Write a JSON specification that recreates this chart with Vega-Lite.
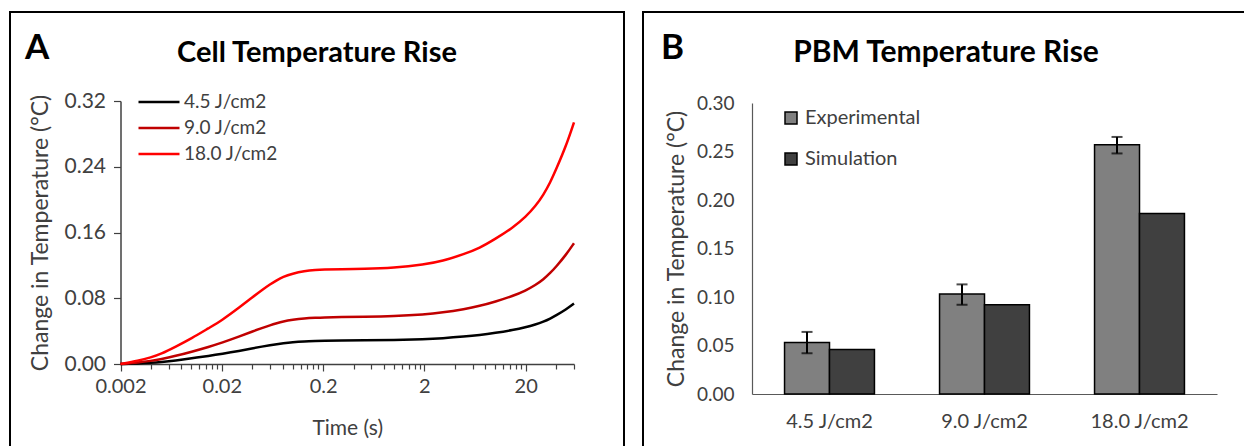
{
  "$schema": "https://vega.github.io/schema/vega-lite/v6.json",
  "padding": {"left": 9, "top": 11, "right": 0, "bottom": 0},
  "background": "white",
  "config": {"font": "Lato", "view": {"stroke": "black", "strokeWidth": 2}},
  "spacing": 17,
  "hconcat": [
    {
      "title": {"text": "A", "anchor": "start", "fontSize": 35, "fontWeight": "bold", "offset": -55, "dx": 16, "color": "black"},
      "vconcat": [
        {
          "width": 614,
          "height": 440,
          "title": {"text": "Cell Temperature Rise", "fontSize": 29, "fontWeight": "bold", "anchor": "middle", "offset": -56, "color": "black"},
          "data": {"values": [
            {"s": "4.5 J/cm2", "t": 0.002, "v": 0}, {"s": "4.5 J/cm2", "t": 0.003, "v": 0.0007}, {"s": "4.5 J/cm2", "t": 0.004, "v": 0.0015}, {"s": "4.5 J/cm2", "t": 0.005, "v": 0.0024}, {"s": "4.5 J/cm2", "t": 0.007, "v": 0.0042}, {"s": "4.5 J/cm2", "t": 0.01, "v": 0.0068}, {"s": "4.5 J/cm2", "t": 0.015, "v": 0.01}, {"s": "4.5 J/cm2", "t": 0.02, "v": 0.0123}, {"s": "4.5 J/cm2", "t": 0.03, "v": 0.016}, {"s": "4.5 J/cm2", "t": 0.04, "v": 0.019}, {"s": "4.5 J/cm2", "t": 0.05, "v": 0.0212}, {"s": "4.5 J/cm2", "t": 0.06, "v": 0.0229}, {"s": "4.5 J/cm2", "t": 0.07, "v": 0.0242}, {"s": "4.5 J/cm2", "t": 0.08, "v": 0.0252}, {"s": "4.5 J/cm2", "t": 0.1, "v": 0.0265}, {"s": "4.5 J/cm2", "t": 0.13, "v": 0.0274}, {"s": "4.5 J/cm2", "t": 0.17, "v": 0.0279}, {"s": "4.5 J/cm2", "t": 0.2, "v": 0.0282}, {"s": "4.5 J/cm2", "t": 0.3, "v": 0.0285}, {"s": "4.5 J/cm2", "t": 0.5, "v": 0.0288}, {"s": "4.5 J/cm2", "t": 1, "v": 0.0292}, {"s": "4.5 J/cm2", "t": 2, "v": 0.0302}, {"s": "4.5 J/cm2", "t": 3, "v": 0.0313}, {"s": "4.5 J/cm2", "t": 5, "v": 0.0334}, {"s": "4.5 J/cm2", "t": 7, "v": 0.0352}, {"s": "4.5 J/cm2", "t": 10, "v": 0.0378}, {"s": "4.5 J/cm2", "t": 15, "v": 0.0413}, {"s": "4.5 J/cm2", "t": 20, "v": 0.0446}, {"s": "4.5 J/cm2", "t": 25, "v": 0.048}, {"s": "4.5 J/cm2", "t": 30, "v": 0.0515}, {"s": "4.5 J/cm2", "t": 35, "v": 0.0553}, {"s": "4.5 J/cm2", "t": 40, "v": 0.0592}, {"s": "4.5 J/cm2", "t": 50, "v": 0.0663}, {"s": "4.5 J/cm2", "t": 60, "v": 0.0735},
            {"s": "9.0 J/cm2", "t": 0.002, "v": 0}, {"s": "9.0 J/cm2", "t": 0.003, "v": 0.0018}, {"s": "9.0 J/cm2", "t": 0.004, "v": 0.0038}, {"s": "9.0 J/cm2", "t": 0.005, "v": 0.0058}, {"s": "9.0 J/cm2", "t": 0.007, "v": 0.0098}, {"s": "9.0 J/cm2", "t": 0.01, "v": 0.0148}, {"s": "9.0 J/cm2", "t": 0.015, "v": 0.021}, {"s": "9.0 J/cm2", "t": 0.02, "v": 0.0258}, {"s": "9.0 J/cm2", "t": 0.03, "v": 0.0335}, {"s": "9.0 J/cm2", "t": 0.04, "v": 0.0395}, {"s": "9.0 J/cm2", "t": 0.05, "v": 0.0438}, {"s": "9.0 J/cm2", "t": 0.06, "v": 0.0472}, {"s": "9.0 J/cm2", "t": 0.07, "v": 0.0497}, {"s": "9.0 J/cm2", "t": 0.08, "v": 0.0517}, {"s": "9.0 J/cm2", "t": 0.1, "v": 0.0538}, {"s": "9.0 J/cm2", "t": 0.13, "v": 0.0555}, {"s": "9.0 J/cm2", "t": 0.17, "v": 0.0563}, {"s": "9.0 J/cm2", "t": 0.2, "v": 0.0567}, {"s": "9.0 J/cm2", "t": 0.3, "v": 0.0571}, {"s": "9.0 J/cm2", "t": 0.5, "v": 0.0575}, {"s": "9.0 J/cm2", "t": 1, "v": 0.0583}, {"s": "9.0 J/cm2", "t": 2, "v": 0.0603}, {"s": "9.0 J/cm2", "t": 3, "v": 0.0625}, {"s": "9.0 J/cm2", "t": 5, "v": 0.0668}, {"s": "9.0 J/cm2", "t": 7, "v": 0.0705}, {"s": "9.0 J/cm2", "t": 10, "v": 0.0758}, {"s": "9.0 J/cm2", "t": 15, "v": 0.0828}, {"s": "9.0 J/cm2", "t": 20, "v": 0.0893}, {"s": "9.0 J/cm2", "t": 25, "v": 0.096}, {"s": "9.0 J/cm2", "t": 30, "v": 0.103}, {"s": "9.0 J/cm2", "t": 35, "v": 0.1108}, {"s": "9.0 J/cm2", "t": 40, "v": 0.1185}, {"s": "9.0 J/cm2", "t": 50, "v": 0.1328}, {"s": "9.0 J/cm2", "t": 60, "v": 0.147},
            {"s": "18.0 J/cm2", "t": 0.002, "v": 0}, {"s": "18.0 J/cm2", "t": 0.003, "v": 0.004}, {"s": "18.0 J/cm2", "t": 0.004, "v": 0.008}, {"s": "18.0 J/cm2", "t": 0.005, "v": 0.012}, {"s": "18.0 J/cm2", "t": 0.007, "v": 0.021}, {"s": "18.0 J/cm2", "t": 0.01, "v": 0.031}, {"s": "18.0 J/cm2", "t": 0.015, "v": 0.044}, {"s": "18.0 J/cm2", "t": 0.02, "v": 0.053}, {"s": "18.0 J/cm2", "t": 0.03, "v": 0.069}, {"s": "18.0 J/cm2", "t": 0.04, "v": 0.081}, {"s": "18.0 J/cm2", "t": 0.05, "v": 0.09}, {"s": "18.0 J/cm2", "t": 0.06, "v": 0.097}, {"s": "18.0 J/cm2", "t": 0.07, "v": 0.102}, {"s": "18.0 J/cm2", "t": 0.08, "v": 0.106}, {"s": "18.0 J/cm2", "t": 0.1, "v": 0.11}, {"s": "18.0 J/cm2", "t": 0.13, "v": 0.113}, {"s": "18.0 J/cm2", "t": 0.17, "v": 0.1145}, {"s": "18.0 J/cm2", "t": 0.2, "v": 0.115}, {"s": "18.0 J/cm2", "t": 0.3, "v": 0.1152}, {"s": "18.0 J/cm2", "t": 0.5, "v": 0.1156}, {"s": "18.0 J/cm2", "t": 1, "v": 0.117}, {"s": "18.0 J/cm2", "t": 2, "v": 0.121}, {"s": "18.0 J/cm2", "t": 3, "v": 0.125}, {"s": "18.0 J/cm2", "t": 5, "v": 0.134}, {"s": "18.0 J/cm2", "t": 7, "v": 0.141}, {"s": "18.0 J/cm2", "t": 10, "v": 0.152}, {"s": "18.0 J/cm2", "t": 15, "v": 0.166}, {"s": "18.0 J/cm2", "t": 20, "v": 0.179}, {"s": "18.0 J/cm2", "t": 25, "v": 0.192}, {"s": "18.0 J/cm2", "t": 30, "v": 0.206}, {"s": "18.0 J/cm2", "t": 35, "v": 0.221}, {"s": "18.0 J/cm2", "t": 40, "v": 0.237}, {"s": "18.0 J/cm2", "t": 50, "v": 0.265}, {"s": "18.0 J/cm2", "t": 60, "v": 0.294}
          ]},
          "mark": {"type": "line", "interpolate": "basis", "strokeWidth": 2.5},
          "encoding": {
            "x": {"field": "t", "type": "quantitative",
              "scale": {"type": "log", "domain": [0.002, 60], "range": [110.5, 564], "nice": false, "zero": false},
              "axis": {"orient": "bottom", "offset": -88, "grid": false,
                "values": [0.002, 0.004, 0.006, 0.008, 0.01, 0.012, 0.014, 0.016, 0.018, 0.02, 0.04, 0.06, 0.08, 0.1, 0.12, 0.14, 0.16, 0.18, 0.2, 0.4, 0.6, 0.8, 1, 1.2, 1.4, 1.6, 1.8, 2, 4, 6, 8, 10, 12, 14, 16, 18, 20, 40, 60],
                "format": "~g",
                "labelExpr": "indexof([0.002, 0.02, 0.2, 2, 20], datum.value) >= 0 ? datum.label : ''",
                "labelFlush": false, "labelOverlap": false,
                "tickSize": {"condition": {"test": "indexof([0.002, 0.02, 0.2, 2, 20], datum.value) >= 0", "value": 7}, "value": 5},
                "tickColor": "#404040", "tickWidth": 1.2, "domainColor": "#404040", "domainWidth": 1.5,
                "labelColor": "#404040", "labelFontSize": 20, "labelPadding": 5,
                "title": "Time (s)", "titleFontSize": 21, "titleFontWeight": "normal", "titleColor": "#404040", "titlePadding": 21}},
            "y": {"field": "v", "type": "quantitative",
              "scale": {"domain": [0, 0.32], "range": [352, 89], "nice": false, "zero": false},
              "axis": {"orient": "left", "offset": -110.5, "grid": false,
                "values": [0, 0.08, 0.16, 0.24, 0.32], "format": ".2f",
                "tickSize": 7, "tickColor": "#404040", "tickWidth": 1.2, "domainColor": "#404040", "domainWidth": 1.5,
                "labelColor": "#404040", "labelFontSize": 21, "labelPadding": 8,
                "title": "Change in Temperature (°C)", "titleFontSize": 23, "titleFontWeight": "normal", "titleColor": "#404040", "titlePadding": 12}},
            "color": {"field": "s", "type": "nominal",
              "scale": {"domain": ["4.5 J/cm2", "9.0 J/cm2", "18.0 J/cm2"], "range": ["#000000", "#C00000", "#FF0000"]},
              "legend": {"orient": "none", "legendX": 127, "legendY": 80, "title": null, "symbolType": "stroke", "symbolSize": 1681, "symbolStrokeWidth": 2.5, "labelFontSize": 19, "labelColor": "#404040", "clipHeight": 20, "rowPadding": 6, "labelOffset": 3}}
          }
        }
      ]
    },
    {
      "title": {"text": "B", "anchor": "start", "fontSize": 35, "fontWeight": "bold", "offset": -55, "dx": 19, "color": "black"},
      "vconcat": [
        {
          "width": 606,
          "height": 440,
          "title": {"text": "PBM Temperature Rise", "fontSize": 30, "fontWeight": "bold", "anchor": "middle", "offset": -56, "color": "black"},
          "data": {"values": [
            {"c": "4.5 J/cm2", "s": "Experimental", "v": 0.053, "lo": 0.042, "hi": 0.064},
            {"c": "4.5 J/cm2", "s": "Simulation", "v": 0.046},
            {"c": "9.0 J/cm2", "s": "Experimental", "v": 0.103, "lo": 0.092, "hi": 0.113},
            {"c": "9.0 J/cm2", "s": "Simulation", "v": 0.092},
            {"c": "18.0 J/cm2", "s": "Experimental", "v": 0.257, "lo": 0.248, "hi": 0.265},
            {"c": "18.0 J/cm2", "s": "Simulation", "v": 0.186}
          ]},
          "encoding": {
            "x": {"field": "c", "type": "nominal",
              "scale": {"domain": ["4.5 J/cm2", "9.0 J/cm2", "18.0 J/cm2"], "range": [109, 574], "paddingInner": 0.42, "paddingOuter": 0.21},
              "axis": {"orient": "bottom", "offset": -58, "ticks": false, "tickSize": 0, "labelAngle": 0, "labelFontSize": 20, "labelColor": "#404040", "labelPadding": 17, "domainColor": "#595959", "domainWidth": 1.2, "title": null}},
            "xOffset": {"field": "s", "type": "nominal", "scale": {"domain": ["Experimental", "Simulation"], "paddingInner": 0, "paddingOuter": 0}}
          },
          "layer": [
            {
              "mark": {"type": "bar", "stroke": "black", "strokeWidth": 1.5},
              "encoding": {
                "y": {"field": "v", "type": "quantitative",
                  "scale": {"domain": [0, 0.3], "range": [382, 91], "nice": false, "zero": false},
                  "axis": {"orient": "left", "offset": -109, "grid": false, "values": [0, 0.05, 0.1, 0.15, 0.2, 0.25, 0.3], "format": ".2f",
                    "ticks": false, "tickSize": 0, "labelPadding": 18, "labelFontSize": 19, "labelColor": "#404040", "domainColor": "#595959", "domainWidth": 1.2,
                    "title": "Change in Temperature (°C)", "titleFontSize": 23, "titleFontWeight": "normal", "titleColor": "#404040", "titlePadding": 8}},
                "fill": {"field": "s", "type": "nominal",
                  "scale": {"domain": ["Experimental", "Simulation"], "range": ["#808080", "#404040"]},
                  "legend": {"orient": "none", "legendX": 771, "legendY": 96, "title": null, "symbolType": "square", "symbolSize": 144, "symbolStrokeColor": "black", "symbolStrokeWidth": 1.5, "labelFontSize": 20, "labelColor": "#404040", "clipHeight": 20, "rowPadding": 21, "labelOffset": 4}}
              }
            },
            {
              "transform": [{"filter": "isValid(datum.lo)"}],
              "mark": {"type": "rule", "strokeWidth": 2, "color": "black"},
              "encoding": {"y": {"field": "lo", "type": "quantitative"}, "y2": {"field": "hi"}}
            },
            {
              "transform": [{"filter": "isValid(datum.lo)"}],
              "mark": {"type": "tick", "thickness": 2, "size": 11, "color": "black"},
              "encoding": {"y": {"field": "lo", "type": "quantitative"}}
            },
            {
              "transform": [{"filter": "isValid(datum.hi)"}],
              "mark": {"type": "tick", "thickness": 2, "size": 11, "color": "black"},
              "encoding": {"y": {"field": "hi", "type": "quantitative"}}
            }
          ]
        }
      ]
    }
  ]
}
